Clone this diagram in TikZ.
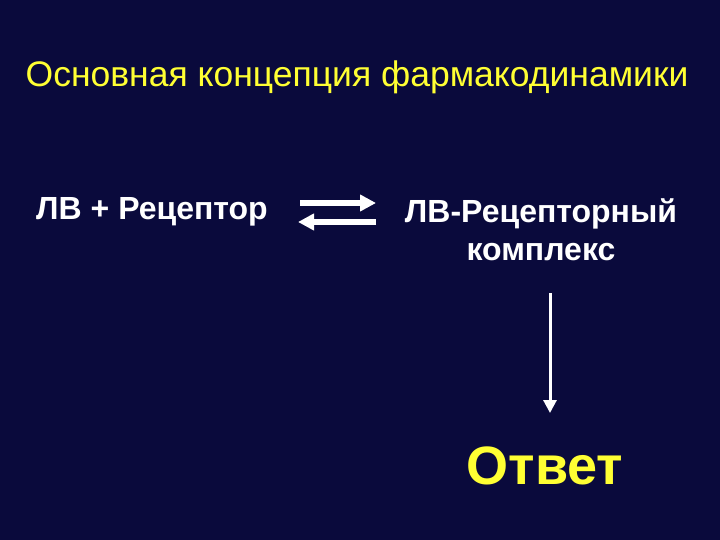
\documentclass[tikz,border=0pt]{standalone}
\usepackage{fontspec}
\setmainfont{Liberation Sans}
\usetikzlibrary{arrows.meta}
\definecolor{bg}{HTML}{0A0A3C}
\definecolor{ttl}{HTML}{FFFF33}
\begin{document}
\begin{tikzpicture}[x=1pt,y=-1pt,
  lbl/.style={text=white,font=\bfseries\fontsize{32}{36}\selectfont,align=center},
  arr/.style={white,line width=5.5pt,-{Triangle[length=16pt,width=16pt]}}]
\fill[bg] (0,0) rectangle (720,540);
\useasboundingbox (0,0) rectangle (720,540);
\node[text=ttl,font=\fontsize{35.5}{40}\selectfont] (t) at (357,77) {Основная концепция фармакодинамики};
\node[lbl] (a) at (152,212) {ЛВ + Рецептор};
\node[lbl,font=\bfseries\fontsize{32}{38}\selectfont] (b) at (541,230) {ЛВ-Рецепторный\\комплекс};
\coordinate (p1) at (300,203); \coordinate (p2) at (376,203);
\coordinate (q1) at (376,222); \coordinate (q2) at (298,222);
\draw[arr] (p1) -- (p2);
\draw[arr] (q1) -- (q2);
\coordinate (v1) at (550,293); \coordinate (v2) at (550,413);
\draw[white,line width=3pt,-{Triangle[length=13pt,width=13pt]}] (v1) -- (v2);
\node[text=ttl,font=\bfseries\fontsize{54}{58}\selectfont] (c) at (545,466) {Ответ};
\end{tikzpicture}
\end{document}
